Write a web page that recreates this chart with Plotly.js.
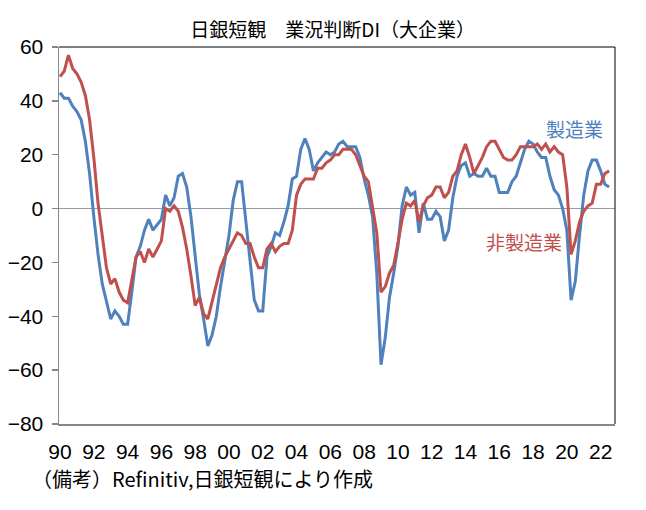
<!DOCTYPE html>
<html>
<head>
<meta charset="utf-8">
<script src="https://cdn.plot.ly/plotly-3.0.1.min.js"></script>
<style>
  html, body { margin: 0; padding: 0; background: #fff; }
  #chart-tankan { width: 646px; height: 510px; }
</style>
</head>
<body>
<div id="chart-tankan"></div>
<script>
// 日銀短観 業況判断DI（大企業）, quarterly from 1990Q1
const startYear = 1990;

const manufacturing = [
    43, 41, 41, 38, 36, 33, 25, 13, -3, -17,
    -28, -35, -41, -38, -40, -43, -43, -31, -18, -14,
    -8, -4, -8, -6, -4, 5, 1, 4, 12, 13,
    8, -3, -17, -32, -41, -51, -47, -40, -29, -20,
    -10, 3, 10, 10, -5, -18, -34, -38, -38, -18,
    -14, -9, -10, -5, 1, 11, 12, 22, 26, 22,
    14, 17, 19, 21, 20, 21, 24, 25, 23, 23,
    23, 19, 11, 5, -3, -24, -58, -48, -33, -24,
    -14, 1, 8, 5, 6, -9, 2, -4, -4, -1,
    -3, -12, -8, 4, 12, 16, 17, 12, 13, 12,
    12, 15, 12, 12, 6, 6, 6, 10, 12, 17,
    22, 25, 24, 21, 19, 19, 12, 7, 5, 0,
    -8, -34, -27, -10, 5, 14, 18, 18, 14, 9,
    8
];

const nonManufacturing = [
    49, 51, 57, 52, 50, 47, 42, 33, 19, 2,
    -10, -22, -28, -26, -31, -34, -35, -27, -18, -16,
    -20, -15, -18, -15, -12, 0, -1, 1, -1, -7,
    -15, -25, -36, -33, -39, -41, -35, -28, -22, -18,
    -15, -12, -9, -10, -13, -13, -18, -22, -22, -15,
    -13, -16, -14, -13, -13, -8, 5, 9, 11, 11,
    11, 15, 15, 17, 18, 20, 20, 22, 22, 22,
    20, 16, 12, 10, 1, -9, -31, -29, -24, -21,
    -13, -4, 2, 1, 3, -5, 1, 4, 5, 8,
    8, 4, 6, 12, 14, 20, 24, 19, 13, 16,
    19, 23, 25, 25, 22, 19, 18, 18, 20, 23,
    23, 23, 23, 24, 22, 24, 21, 23, 21, 20,
    8, -17, -12, -5, -1, 1, 2, 9, 9, 13,
    14
];

const tickYears = [1990, 1992, 1994, 1996, 1998, 2000, 2002, 2004, 2006,
                   2008, 2010, 2012, 2014, 2016, 2018, 2020, 2022];
const tickLabels = ['90', '92', '94', '96', '98', '00', '02', '04', '06',
                    '08', '10', '12', '14', '16', '18', '20', '22'];

const quarters = manufacturing.map((_, i) => startYear + i / 4);

const jpFont = '"Noto Sans CJK JP", "Noto Sans", sans-serif';
const numFont = '"Liberation Sans", Arial, sans-serif';

const traceMfg = {
    x: quarters,
    y: manufacturing,
    type: 'scatter',
    mode: 'lines',
    name: '製造業',
    line: { color: '#4F81BD', width: 3 },
    hoverinfo: 'skip'
};

const traceNonMfg = {
    x: quarters,
    y: nonManufacturing,
    type: 'scatter',
    mode: 'lines',
    name: '非製造業',
    line: { color: '#C0504D', width: 3 },
    hoverinfo: 'skip'
};

const layout = {
    width: 646,
    height: 510,
    margin: { l: 59, r: 31, t: 47, b: 86 },
    paper_bgcolor: 'white',
    plot_bgcolor: 'white',
    showlegend: false,
    title: {
        text: '日銀短観　業況判断DI（大企業）',
        font: { family: jpFont, size: 19, color: '#000' },
        xref: 'container',
        x: 0.515,
        xanchor: 'center',
        yref: 'container',
        y: 0.941,
        yanchor: 'middle'
    },
    xaxis: {
        range: [1989.94, 2022.85],
        tickvals: tickYears,
        ticktext: tickLabels,
        ticks: '',
        ticklabelstandoff: 8,
        showline: true,
        linecolor: '#868686',
        linewidth: 1.5,
        showgrid: false,
        zeroline: false,
        tickfont: { family: numFont, size: 21, color: '#000' }
    },
    yaxis: {
        range: [-80, 60],
        dtick: 20,
        ticks: 'outside',
        ticklen: 6,
        tickwidth: 1.5,
        tickcolor: '#868686',
        ticklabelstandoff: 4,
        showline: true,
        linecolor: '#868686',
        linewidth: 1.5,
        showgrid: false,
        zeroline: true,
        zerolinecolor: '#9a9a9a',
        zerolinewidth: 1.5,
        tickfont: { family: numFont, size: 21, color: '#000' }
    },
    shapes: [
        { type: 'line', xref: 'paper', yref: 'paper', x0: 0, x1: 1, y0: 1, y1: 1,
          line: { color: '#000', width: 1 } },
        { type: 'line', xref: 'paper', yref: 'paper', x0: 1, x1: 1, y0: 0, y1: 1,
          line: { color: '#000', width: 1 } }
    ],
    annotations: [
        {
            text: '製造業',
            xref: 'paper', yref: 'paper',
            x: 0.928, y: 0.785,
            xanchor: 'center', yanchor: 'middle',
            showarrow: false,
            font: { family: jpFont, size: 19, color: '#4F81BD' }
        },
        {
            text: '非製造業',
            xref: 'paper', yref: 'paper',
            x: 0.836, y: 0.485,
            xanchor: 'center', yanchor: 'middle',
            showarrow: false,
            font: { family: jpFont, size: 19, color: '#C0504D' }
        },
        {
            text: '（備考）Refinitiv,日銀短観により作成',
            xref: 'paper', yref: 'paper',
            x: -0.052, y: -0.145,
            xanchor: 'left', yanchor: 'middle',
            showarrow: false,
            font: { family: jpFont, size: 20, color: '#000' }
        }
    ]
};

const config = { responsive: false, displayModeBar: false, staticPlot: true };

Plotly.newPlot('chart-tankan', [traceMfg, traceNonMfg], layout, config);
</script>
</body>
</html>
